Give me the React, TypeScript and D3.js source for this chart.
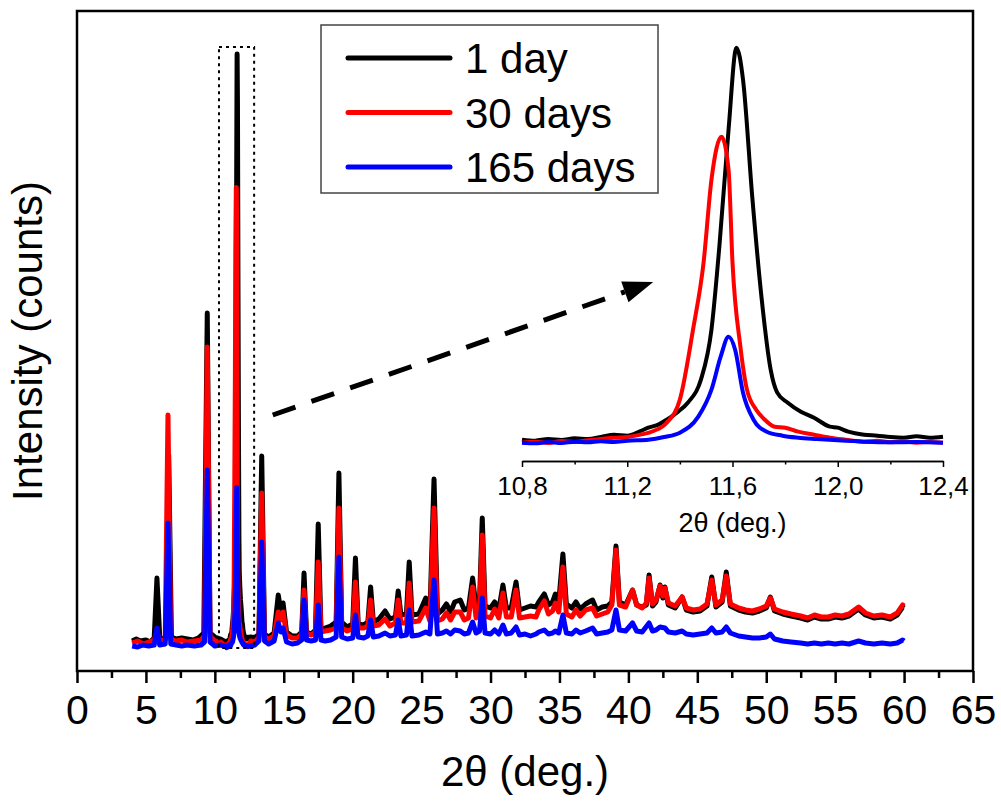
import React, { useRef, useEffect } from "react";
import * as d3 from "d3";

type Pt = [number, number];

// 2theta (deg.) vs intensity (counts)
const day1: Pt[] = [
  [4.0, 300], [4.3, 320], [4.6, 300], [5.0, 310], [5.3, 290], [5.6, 330], [5.8, 930], [6.0, 340],
  [6.3, 310], [6.45, 330], [6.65, 2160], [6.85, 340], [7.2, 320], [7.6, 330], [8.0, 320], [8.4, 310],
  [8.8, 330], [9.2, 380], [9.45, 3580], [9.65, 380], [10.0, 340], [10.4, 320],
  [10.8, 290], [10.85, 275], [10.9, 300], [10.95, 285], [11.0, 310], [11.05, 300], [11.1, 330],
  [11.15, 365], [11.2, 350], [11.25, 420], [11.28, 470], [11.32, 520], [11.35, 590], [11.39, 700],
  [11.43, 845], [11.48, 1190], [11.52, 1940], [11.55, 3185], [11.585, 4940], [11.615, 6170],
  [11.64, 5690], [11.675, 3935], [11.71, 2435], [11.745, 1340], [11.77, 995], [11.81, 845],
  [11.86, 710], [11.91, 620], [11.97, 485], [12.0, 470], [12.04, 410], [12.1, 365], [12.15, 350],
  [12.2, 330], [12.25, 320], [12.3, 340], [12.35, 320], [12.4, 335],
  [12.6, 340], [12.9, 330], [13.2, 370], [13.4, 2150], [13.6, 370], [13.9, 340], [14.3, 380],
  [14.6, 760], [14.78, 600], [14.95, 680], [15.2, 390], [15.6, 350], [16.0, 350], [16.3, 390],
  [16.47, 980], [16.65, 390], [17.0, 370], [17.3, 410], [17.5, 1470], [17.7, 410], [18.0, 430],
  [18.4, 450], [18.8, 490], [19.0, 1980], [19.2, 490], [19.6, 440], [20.0, 470], [20.2, 1130],
  [20.4, 470], [20.8, 460], [21.1, 490], [21.3, 840], [21.5, 490], [21.9, 520], [22.35, 600],
  [22.7, 520], [23.1, 540], [23.3, 800], [23.5, 560], [23.9, 570], [24.1, 1090], [24.3, 560],
  [24.8, 570], [25.3, 730], [25.6, 570], [25.9, 1920], [26.15, 570], [26.5, 610], [26.8, 670],
  [27.1, 590], [27.4, 690], [27.8, 710], [28.1, 610], [28.4, 630], [28.7, 930], [28.95, 630],
  [29.2, 690], [29.4, 1530], [29.6, 650], [30.0, 630], [30.3, 690], [30.6, 610], [30.9, 860],
  [31.15, 630], [31.5, 630], [31.85, 890], [32.1, 610], [32.5, 630], [32.9, 650], [33.3, 640],
  [33.5, 690], [33.9, 770], [34.2, 660], [34.5, 690], [34.7, 770], [34.95, 690], [35.25, 1170],
  [35.5, 670], [35.9, 630], [36.2, 690], [36.5, 620], [36.9, 670], [37.4, 710], [37.7, 610],
  [38.1, 640], [38.5, 650], [38.8, 690], [39.1, 1250], [39.35, 690], [39.8, 660], [40.3, 810],
  [40.6, 660], [41.0, 640], [41.3, 660], [41.5, 960], [41.75, 650], [42.0, 690], [42.3, 860],
  [42.5, 730], [42.65, 840], [42.9, 660], [43.4, 630], [43.9, 740], [44.2, 610], [44.7, 590],
  [45.2, 600], [45.7, 650], [46.05, 940], [46.35, 640], [46.8, 690], [47.1, 990], [47.4, 650],
  [48.0, 610], [48.5, 590], [49.0, 580], [49.5, 600], [50.0, 630], [50.3, 740], [50.6, 600],
  [51.2, 570], [51.8, 550], [52.5, 530], [53.0, 510], [53.5, 540], [54.0, 520], [54.5, 520],
  [55.0, 540], [55.5, 530], [56.0, 550], [56.7, 620], [57.2, 560], [57.8, 530], [58.4, 540],
  [59.0, 520], [59.5, 560], [59.9, 640], [60.0, 630],
];

const day30: Pt[] = [
  [4.0, 280], [4.4, 300], [4.8, 270], [5.2, 290], [5.6, 310], [5.8, 390], [6.0, 300], [6.4, 310],
  [6.6, 2560], [6.8, 320], [7.2, 300], [7.6, 310], [8.0, 290], [8.5, 300], [9.0, 310], [9.25, 350],
  [9.45, 3240], [9.65, 350], [10.0, 300], [10.4, 290],
  [10.8, 245], [10.85, 260], [10.9, 240], [10.95, 270], [11.0, 255], [11.05, 280], [11.1, 300],
  [11.15, 320], [11.2, 330], [11.25, 365], [11.3, 420], [11.35, 545], [11.4, 890], [11.45, 1940],
  [11.49, 2945], [11.52, 4190], [11.558, 4835], [11.585, 4340], [11.6, 2945], [11.63, 1685],
  [11.655, 1040], [11.69, 740], [11.72, 600], [11.76, 485], [11.8, 470], [11.85, 410], [11.91, 365],
  [11.97, 320], [12.03, 290], [12.1, 260], [12.15, 275], [12.2, 250], [12.25, 265], [12.3, 245],
  [12.35, 255], [12.4, 245],
  [12.6, 300], [12.9, 290], [13.2, 340], [13.4, 1780], [13.6, 340], [13.9, 320], [14.3, 350],
  [14.6, 590], [14.78, 510], [14.95, 590], [15.2, 360], [15.6, 330], [16.0, 330], [16.3, 370],
  [16.47, 810], [16.65, 370], [17.0, 360], [17.3, 390], [17.5, 1090], [17.7, 390], [18.0, 400],
  [18.4, 410], [18.8, 430], [19.0, 1630], [19.2, 430], [19.6, 400], [20.0, 420], [20.2, 890],
  [20.4, 430], [20.8, 430], [21.1, 450], [21.3, 710], [21.5, 450], [21.9, 460], [22.35, 520],
  [22.7, 450], [23.1, 480], [23.3, 710], [23.5, 480], [23.9, 480], [24.1, 880], [24.3, 490],
  [24.8, 500], [25.3, 630], [25.6, 500], [25.9, 1630], [26.15, 500], [26.5, 520], [26.8, 580],
  [27.1, 510], [27.4, 590], [27.8, 590], [28.1, 510], [28.4, 530], [28.7, 840], [28.95, 530],
  [29.2, 590], [29.4, 1360], [29.6, 550], [30.0, 530], [30.3, 620], [30.6, 530], [30.9, 780],
  [31.15, 540], [31.5, 540], [31.85, 810], [32.1, 530], [32.5, 540], [32.9, 550], [33.3, 540],
  [33.5, 610], [33.9, 700], [34.2, 570], [34.5, 600], [34.7, 680], [34.95, 590], [35.25, 1040],
  [35.5, 570], [35.9, 540], [36.2, 610], [36.5, 550], [36.9, 610], [37.4, 630], [37.7, 550],
  [38.1, 570], [38.5, 590], [38.8, 660], [39.1, 1210], [39.35, 660], [39.8, 640], [40.3, 810],
  [40.6, 660], [41.0, 630], [41.3, 680], [41.5, 930], [41.75, 670], [42.0, 710], [42.3, 850],
  [42.5, 750], [42.65, 830], [42.9, 680], [43.4, 650], [43.9, 740], [44.2, 630], [44.7, 610],
  [45.2, 620], [45.7, 670], [46.05, 910], [46.35, 660], [46.8, 710], [47.1, 950], [47.4, 670],
  [48.0, 630], [48.5, 610], [49.0, 600], [49.5, 620], [50.0, 650], [50.3, 730], [50.6, 620],
  [51.2, 590], [51.8, 570], [52.5, 550], [53.0, 530], [53.5, 560], [54.0, 540], [54.5, 540],
  [55.0, 560], [55.5, 550], [56.0, 570], [56.7, 640], [57.2, 580], [57.8, 550], [58.4, 560],
  [59.0, 540], [59.5, 580], [59.9, 660], [60.0, 650],
];

const day165: Pt[] = [
  [4.0, 250], [4.4, 240], [4.8, 260], [5.2, 250], [5.6, 260], [5.8, 430], [6.0, 260], [6.4, 270],
  [6.6, 1480], [6.8, 270], [7.2, 260], [7.6, 250], [8.0, 260], [8.5, 250], [9.0, 260], [9.25, 290],
  [9.45, 2010], [9.65, 290], [10.0, 250], [10.4, 260],
  [10.8, 245], [10.85, 235], [10.9, 255], [10.95, 240], [11.0, 260], [11.05, 250], [11.1, 265],
  [11.15, 255], [11.2, 275], [11.28, 290], [11.34, 330], [11.4, 395], [11.47, 635], [11.52, 1040],
  [11.555, 1535], [11.585, 1835], [11.61, 1640], [11.64, 995], [11.68, 590], [11.73, 410],
  [11.79, 350], [11.85, 320], [11.92, 300], [12.0, 280], [12.1, 260], [12.2, 250], [12.3, 255],
  [12.4, 245],
  [12.6, 250], [12.9, 260], [13.2, 300], [13.4, 1290], [13.6, 300], [13.9, 270], [14.3, 300],
  [14.6, 480], [14.8, 390], [14.95, 430], [15.2, 290], [15.6, 270], [16.0, 280], [16.3, 310],
  [16.47, 710], [16.65, 310], [17.0, 300], [17.3, 310], [17.5, 660], [17.7, 310], [18.0, 300],
  [18.4, 310], [18.8, 340], [19.0, 1140], [19.2, 340], [19.6, 320], [20.0, 330], [20.2, 560],
  [20.4, 340], [20.8, 330], [21.1, 350], [21.3, 510], [21.5, 340], [21.9, 350], [22.35, 380],
  [22.7, 350], [23.1, 360], [23.3, 510], [23.5, 350], [23.9, 360], [24.1, 610], [24.3, 350],
  [24.8, 360], [25.3, 390], [25.6, 370], [25.9, 910], [26.15, 370], [26.5, 380], [26.8, 400],
  [27.1, 370], [27.4, 410], [27.8, 400], [28.1, 370], [28.4, 380], [28.7, 490], [28.95, 380],
  [29.2, 400], [29.4, 730], [29.6, 380], [30.0, 370], [30.3, 410], [30.6, 370], [30.9, 460],
  [31.15, 370], [31.5, 380], [31.85, 440], [32.1, 360], [32.5, 370], [32.9, 350], [33.3, 370],
  [33.5, 390], [33.9, 410], [34.2, 370], [34.5, 380], [34.7, 400], [34.95, 380], [35.25, 560],
  [35.5, 380], [35.9, 370], [36.2, 410], [36.5, 380], [36.9, 400], [37.4, 430], [37.7, 370],
  [38.1, 380], [38.5, 390], [38.8, 410], [39.1, 610], [39.35, 410], [39.8, 400], [40.3, 480],
  [40.6, 400], [41.0, 390], [41.5, 480], [41.75, 400], [42.0, 410], [42.3, 440], [42.65, 430],
  [42.9, 390], [43.4, 380], [43.9, 400], [44.2, 370], [44.7, 360], [45.2, 370], [45.7, 380],
  [46.05, 430], [46.35, 380], [46.8, 390], [47.1, 440], [47.4, 380], [48.0, 350], [48.5, 340],
  [49.0, 330], [49.5, 330], [50.0, 340], [50.3, 370], [50.6, 320], [51.2, 300], [51.8, 290],
  [52.5, 280], [53.0, 270], [53.5, 280], [54.0, 270], [54.5, 280], [55.0, 270], [55.5, 280],
  [56.0, 270], [56.7, 300], [57.2, 280], [57.8, 270], [58.4, 280], [59.0, 270], [59.5, 280],
  [59.9, 310], [60.0, 300],
];

const seriesNames = ["1 day", "30 days", "165 days"];
const seriesColors = ["#000000", "#ff0000", "#0000ff"];
const seriesData = [day1, day30, day165];

const xMajorTicks = [0, 5, 10, 15, 20, 25, 30, 35, 40, 45, 50, 55, 60, 65];
const xMinorTicks = [2.5, 7.5, 12.5, 17.5, 22.5, 27.5, 32.5, 37.5, 42.5, 47.5, 52.5, 57.5, 62.5];
const insetRange: [number, number] = [10.8, 12.4];
const insetMajorTicks = [10.8, 11.2, 11.6, 12.0, 12.4];
const insetMinorTicks = [11.0, 11.4, 11.8, 12.2];

// annotation positions in data units
const zoomBoxX: [number, number] = [10.3, 12.85];
const zoomBoxY: [number, number] = [230, 6240];
const arrowFrom: Pt = [14.2, 2560];
const arrowTo: Pt = [41.8, 3890];

const FONT = "'Liberation Sans', Arial, sans-serif";
const W = 1001;
const H = 804;
const plot = { left: 77, top: 11, right: 973, bottom: 671 };
const inset = { left: 522, right: 943, top: 19, bottom: 459, axisY: 461 };

const commaFmt = d3
  .formatLocale({ decimal: ",", thousands: ".", grouping: [3], currency: ["", ""] })
  .format(".1f");

export default function App() {
  const xAxisRef = useRef<SVGGElement>(null);
  const insetAxisRef = useRef<SVGGElement>(null);

  const x = d3.scaleLinear().domain([0, 65]).range([plot.left, plot.right]);
  const y = d3.scaleLinear().domain([0, 6600]).range([plot.bottom, plot.top]);
  const xi = d3.scaleLinear().domain(insetRange).range([inset.left, inset.right]);
  const yi = d3.scaleLinear().domain([0, 6600]).range([inset.bottom, inset.top]);

  const mainLine = d3
    .line<Pt>()
    .x((d) => x(d[0]))
    .y((d) => y(d[1]));
  const insetLine = d3
    .line<Pt>()
    .x((d) => xi(d[0]))
    .y((d) => yi(d[1]))
    .curve(d3.curveMonotoneX);

  useEffect(() => {
    // main x axis
    const g = d3.select(xAxisRef.current);
    g.selectAll("*").remove();
    const major = g.append("g").call(
      d3.axisBottom(x).tickValues(xMajorTicks).tickSize(12).tickPadding(12).tickFormat(d3.format("d"))
    );
    const minor = g.append("g").call(
      d3.axisBottom(x).tickValues(xMinorTicks).tickSize(7).tickFormat(() => "")
    );
    g.selectAll(".domain").remove();
    g.selectAll(".tick line").attr("stroke", "#000").attr("stroke-width", 2.5);
    major
      .selectAll(".tick text")
      .attr("font-size", 41)
      .attr("font-family", FONT)
      .attr("fill", "#000");
    minor.selectAll(".tick text").remove();

    // inset x axis
    const gi = d3.select(insetAxisRef.current);
    gi.selectAll("*").remove();
    const imajor = gi.append("g").call(
      d3
        .axisBottom(xi)
        .tickValues(insetMajorTicks)
        .tickSize(6)
        .tickSizeOuter(0)
        .tickPadding(10)
        .tickFormat((d) => commaFmt(d as number))
    );
    gi.append("g").call(
      d3.axisBottom(xi).tickValues(insetMinorTicks).tickSize(3.5).tickSizeOuter(0).tickFormat(() => "")
    );
    gi.selectAll(".domain").attr("stroke", "#000").attr("stroke-width", 1.5);
    gi.selectAll(".tick line").attr("stroke", "#000").attr("stroke-width", 1.5);
    imajor
      .selectAll(".tick text")
      .attr("font-size", 26)
      .attr("font-family", FONT)
      .attr("fill", "#000");
  }, []);

  // arrow geometry
  const ax0 = x(arrowFrom[0]);
  const ay0 = y(arrowFrom[1]);
  const ax1 = x(arrowTo[0]);
  const ay1 = y(arrowTo[1]);
  const ang = Math.atan2(ay1 - ay0, ax1 - ax0);
  const headLen = 30;
  const headHalf = 11;
  const bx = ax1 - headLen * Math.cos(ang);
  const by = ay1 - headLen * Math.sin(ang);
  const head = [
    [ax1, ay1],
    [bx + headHalf * Math.sin(ang), by - headHalf * Math.cos(ang)],
    [bx - headHalf * Math.sin(ang), by + headHalf * Math.cos(ang)],
  ]
    .map((p) => p.join(","))
    .join(" ");

  const legend = { x: 321, y: 25, w: 337, h: 168 };

  return (
    <svg
      width={W}
      height={H}
      style={{ position: "absolute", left: 0, top: 0, background: "#fff" }}
      fontFamily={FONT}
    >
      {/* main patterns */}
      {seriesData.map((data, i) => (
        <path
          key={seriesNames[i]}
          d={mainLine(data) || ""}
          fill="none"
          stroke={seriesColors[i]}
          strokeWidth={5}
          strokeLinejoin="round"
        />
      ))}

      {/* dotted zoom box */}
      <rect
        x={x(zoomBoxX[0])}
        y={y(zoomBoxY[1])}
        width={x(zoomBoxX[1]) - x(zoomBoxX[0])}
        height={y(zoomBoxY[0]) - y(zoomBoxY[1])}
        fill="none"
        stroke="#000"
        strokeWidth={2}
        strokeDasharray="3,4"
      />

      {/* dashed arrow */}
      <line x1={ax0} y1={ay0} x2={bx} y2={by} stroke="#000" strokeWidth={5} strokeDasharray="24,17" />
      <polygon points={head} fill="#000" />

      {/* frame */}
      <rect
        x={plot.left}
        y={plot.top}
        width={plot.right - plot.left}
        height={plot.bottom - plot.top}
        fill="none"
        stroke="#000"
        strokeWidth={2.5}
      />
      <g ref={xAxisRef} transform={`translate(0,${plot.bottom})`} />

      <text x={(plot.left + plot.right) / 2} y={786} textAnchor="middle" fontSize={42}>
        2θ (deg.)
      </text>
      <text
        transform={`translate(42,${(plot.top + plot.bottom) / 2}) rotate(-90)`}
        textAnchor="middle"
        fontSize={42}
      >
        Intensity (counts)
      </text>

      {/* inset */}
      {seriesData.map((data, i) => (
        <path
          key={"inset-" + seriesNames[i]}
          d={insetLine(data.filter((d) => d[0] >= insetRange[0] && d[0] <= insetRange[1])) || ""}
          fill="none"
          stroke={seriesColors[i]}
          strokeWidth={4}
          strokeLinejoin="round"
        />
      ))}
      <g ref={insetAxisRef} transform={`translate(0,${inset.axisY})`} />
      <text x={(inset.left + inset.right) / 2} y={532} textAnchor="middle" fontSize={27}>
        2θ (deg.)
      </text>

      {/* legend */}
      <rect
        x={legend.x}
        y={legend.y}
        width={legend.w}
        height={legend.h}
        fill="#fff"
        stroke="#444"
        strokeWidth={1.5}
      />
      {seriesNames.map((name, i) => {
        const ly = legend.y + 33 + i * 54.5;
        return (
          <g key={"leg-" + name}>
            <line x1={348} x2={450} y1={ly} y2={ly} stroke={seriesColors[i]} strokeWidth={5} strokeLinecap="round" />
            <text x={465} y={ly} dy="0.36em" fontSize={42}>
              {name}
            </text>
          </g>
        );
      })}
    </svg>
  );
}
